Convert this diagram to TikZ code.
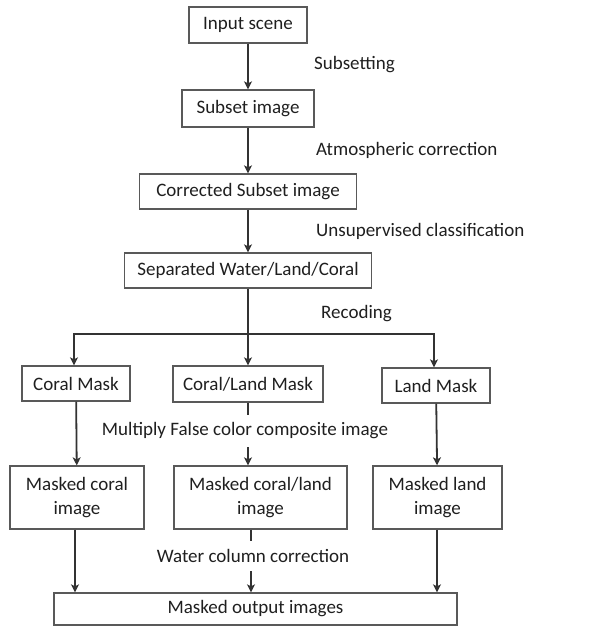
\documentclass[tikz,border=0pt]{standalone}
\usepackage{fontspec}
\setmainfont{Carlito}
\usetikzlibrary{arrows.meta}
\begin{document}
\begin{tikzpicture}[x=1pt,y=-1pt,
  every node/.style={font=\fontsize{19}{24}\selectfont, text=black!88},
  box/.style={draw=black!65, line width=1.3pt, minimum width=#1, inner sep=0pt, align=center},
  arr/.style={draw=black!80, line width=1.8pt, -{Stealth[length=8pt,width=8pt,inset=2pt]}},
  lbl/.style={anchor=west, inner sep=0pt},
  gap/.style={fill=white, inner xsep=1pt, inner ysep=8pt}]
\useasboundingbox (0,0) rectangle (590,626);
\node[box=118pt, minimum height=36pt] (in) at (248,25) {Input scene};
\node[box=132pt, minimum height=37pt] (sub) at (248,108.5) {Subset image};
\node[box=217pt, minimum height=35pt] (cor) at (248,191.5) {Corrected Subset image};
\node[box=247pt, minimum height=35pt] (sep) at (248,270.5) {Separated Water/Land/Coral};
\node[box=108pt, minimum height=35pt] (cm) at (76,383.5) {Coral Mask};
\node[box=150pt, minimum height=36pt] (clm) at (248,384) {Coral/Land Mask};
\node[box=108pt, minimum height=35pt] (lm) at (436,385.5) {Land Mask};
\node[box=134pt, minimum height=63pt] (mc) at (77,497.5) {Masked coral\\image};
\node[box=173pt, minimum height=63pt] (mcl) at (260.5,497.5) {Masked coral/land\\image};
\node[box=129pt, minimum height=63pt] (ml) at (437.5,497.5) {Masked land\\image};
\node[box=403pt, minimum height=32pt] (out) at (255.5,609) {Masked output images};
\node[lbl] (t1) at (314,65) {Subsetting};
\node[lbl] (t2) at (316,150) {Atmospheric correction};
\node[lbl] (t3) at (316,231) {Unsupervised classification};
\node[lbl] (t4) at (321,314) {Recoding};
\draw[arr] (in) -- (sub);
\draw[arr] (sub) -- (cor);
\draw[arr] (cor) -- (sep);
\coordinate (j) at (248,334);
\draw[arr] (sep) -- (clm);
\draw[arr] (j) -| (cm.north -| 74,0);
\draw[arr] (j) -| (lm.north -| 434,0);
\draw[arr] (cm) -- (mc);
\draw[arr] (lm) -- (ml);
\draw[arr] (clm.south) -- (clm.south |- mcl.north);
\node[gap] (mul) at (245,431) {Multiply False color composite image};
\draw[arr] (mc.south -| 75,0) -- (out.north -| 75,0);
\draw[arr] (ml.south -| 437,0) -- (out.north -| 437,0);
\draw[arr] (mcl.south -| 251,0) -- (out.north -| 251,0);
\node[gap] (wcc) at (253,556) {Water column correction};
\end{tikzpicture}
\end{document}
